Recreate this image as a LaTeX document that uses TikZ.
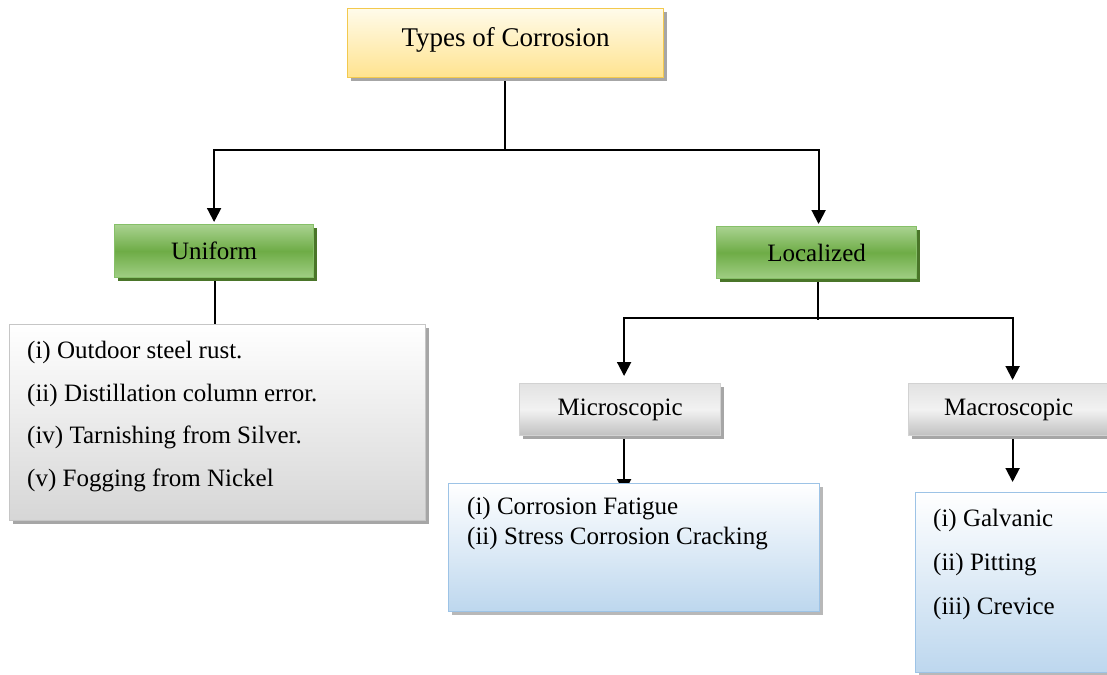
\documentclass[tikz,border=0pt]{standalone}
\usepackage{fontspec}
\setmainfont{Liberation Serif}
\usetikzlibrary{shadows,arrows.meta}
\pgfdeclarelayer{paper}
\pgfdeclarelayer{bg}
\pgfsetlayers{paper,bg,main}
\definecolor{ytop}{HTML}{FFFBEA}
\definecolor{ybot}{HTML}{FFE38F}
\definecolor{yedge}{HTML}{F3C94E}
\definecolor{gtop}{HTML}{A9D290}
\definecolor{gmid}{HTML}{6EAC46}
\definecolor{gbot}{HTML}{A0CE84}
\definecolor{gedge}{HTML}{86C068}
\definecolor{gshadow}{HTML}{4A7529}
\definecolor{stop}{HTML}{E2E2E2}
\definecolor{smid}{HTML}{F2F2F2}
\definecolor{sbot}{HTML}{C0C0C0}
\definecolor{sedge}{HTML}{D2D2D2}
\definecolor{lbot}{HTML}{D6D6D6}
\definecolor{ledge}{HTML}{C6C6C6}
\definecolor{bbot}{HTML}{BDD7EE}
\definecolor{bedge}{HTML}{9DC3E6}
\definecolor{shad}{HTML}{A6A6A6}
\tikzset{
  box/.style={draw, line width=1.2pt, inner sep=0pt, anchor=north west,
    font=\fontsize{25}{30}\selectfont},
  titlebox/.style={box, draw=yedge, top color=ytop, bottom color=ybot,
    drop shadow={shadow xshift=3pt, shadow yshift=-3pt, fill=shad, opacity=1},
    font=\fontsize{27}{32}\selectfont, text depth=12pt},
  greenbox/.style={box, draw=gedge, top color=gtop, bottom color=gbot, middle color=gmid,
    drop shadow={shadow xshift=3pt, shadow yshift=-3pt, fill=gshadow, opacity=1}},
  greybox/.style={box, draw=sedge, top color=stop, bottom color=sbot, middle color=smid,
    drop shadow={shadow xshift=3pt, shadow yshift=-3pt, fill=shad, opacity=1}},
  listgrey/.style={box, draw=ledge, top color=white, bottom color=lbot,
    drop shadow={shadow xshift=3pt, shadow yshift=-3pt, fill=shad, opacity=1}},
  listblue/.style={box, draw=bedge, top color=white, bottom color=bbot,
    drop shadow={shadow xshift=3pt, shadow yshift=-3pt, fill=shad!80, opacity=1}},
  listtext/.style={anchor=north west, inner sep=0pt, align=left},
  arr/.style={line width=2pt, -{Triangle[width=14pt,length=14pt]}},
  conn/.style={line width=2pt}
}
\begin{document}
\begin{tikzpicture}[x=1pt,y={(0,-1pt)}]
\clip (0,0) rectangle (1107,674);
\useasboundingbox (0,0) rectangle (1107,674);
\begin{pgfonlayer}{paper}
\fill[white] (0,0) rectangle (1107,674);
\end{pgfonlayer}

\node[titlebox, minimum width=316pt, minimum height=69pt] (title) at (347,8) {Types of Corrosion};
\node[greenbox, minimum width=199pt, minimum height=53pt] (uni) at (114,224) {Uniform};
\node[greenbox, minimum width=200pt, minimum height=52pt] (loc) at (716,226) {Localized};
\node[listgrey, minimum width=416pt, minimum height=196pt] (grey) at (9,324) {};
\node[greybox, minimum width=201pt, minimum height=52pt] (mic) at (519,383) {Microscopic};
\node[greybox, minimum width=200pt, minimum height=52pt] (mac) at (908,383) {Macroscopic};
\node[listblue, minimum width=371pt, minimum height=128pt] (blue1) at (448,483) {};
\node[listblue, minimum width=215pt, minimum height=180pt] (blue2) at (915,492) {};

\node[listtext, font=\fontsize{25}{42.7}\selectfont] (t1) at (27,341)
  {(i) Outdoor steel rust.\\(ii) Distillation column error.\\(iv) Tarnishing from Silver.\\(v) Fogging from Nickel};
\node[listtext, font=\fontsize{25}{30}\selectfont] (t2) at (467,497)
  {(i) Corrosion Fatigue\\(ii) Stress Corrosion Cracking};
\node[listtext, font=\fontsize{25}{44}\selectfont] (t3) at (933,509)
  {(i) Galvanic\\(ii) Pitting\\(iii) Crevice};

\begin{pgfonlayer}{bg}
\coordinate (jt) at (505,150);
\draw[conn] (title.south -| jt) -- (jt);
\draw[arr, shorten >=2pt] (jt) -| (uni.north);
\draw[arr, shorten >=2pt] (jt) -| ([xshift=2pt]loc.north);
\draw[conn] ([xshift=1pt]uni.south) -- ([xshift=1pt]uni.south |- grey.north);
\coordinate (jl) at (818,318);
\draw[conn] (loc.south -| jl) -- ([yshift=-2pt]jl);
\draw[arr, shorten >=7pt] (jl) -| ([xshift=4pt]mic.north);
\draw[arr, shorten >=3pt] (jl) -| ([xshift=4pt]mac.north);
\draw[arr] ([xshift=4pt]mic.south) -- ([xshift=4pt, yshift=-10pt]mic.south |- blue1.north);
\draw[arr, shorten >=10pt] ([xshift=4pt]mac.south) -- ([xshift=4pt]mac.south |- blue2.north);
\end{pgfonlayer}
\end{tikzpicture}
\end{document}
